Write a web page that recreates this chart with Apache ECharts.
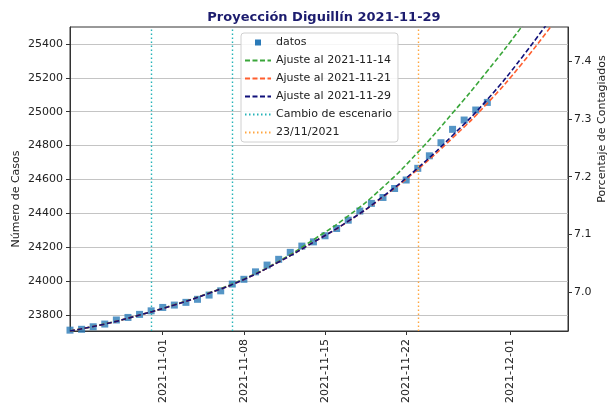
<!DOCTYPE html>
<html>
<head>
<meta charset="utf-8">
<script src="https://cdn.jsdelivr.net/npm/echarts@6/dist/echarts.min.js"></script>
<style>
html, body { margin: 0; padding: 0; background: #fff; }
#chart { width: 611px; height: 407px; }
</style>
</head>
<body>
<div id="chart"></div>
<script>
// datos diarios
var fechas = [
    "2021-10-24", "2021-10-25", "2021-10-26", "2021-10-27", "2021-10-28", "2021-10-29", "2021-10-30",
    "2021-10-31", "2021-11-01", "2021-11-02", "2021-11-03", "2021-11-04", "2021-11-05", "2021-11-06",
    "2021-11-07", "2021-11-08", "2021-11-09", "2021-11-10", "2021-11-11", "2021-11-12", "2021-11-13",
    "2021-11-14", "2021-11-15", "2021-11-16", "2021-11-17", "2021-11-18", "2021-11-19", "2021-11-20",
    "2021-11-21", "2021-11-22", "2021-11-23", "2021-11-24", "2021-11-25", "2021-11-26", "2021-11-27",
    "2021-11-28", "2021-11-29"
];
var casos = [
    23711, 23716, 23731, 23747, 23771, 23786, 23804,
    23825, 23845, 23859, 23875, 23893, 23918, 23943,
    23983, 24011, 24055, 24095, 24129, 24170, 24207,
    24232, 24268, 24311, 24360, 24414, 24459, 24494,
    24547, 24597, 24666, 24740, 24817, 24896, 24951,
    25010, 25055
];

// curvas de ajuste
var fechasAjuste = [
    "2021-10-24", "2021-10-27", "2021-10-30", "2021-11-02", "2021-11-05", "2021-11-08", "2021-11-11",
    "2021-11-14", "2021-11-17", "2021-11-20", "2021-11-23", "2021-11-26", "2021-11-29", "2021-12-02",
    "2021-12-05"
];
var ajuste1114 = [23706, 23748, 23800, 23861, 23931, 24013, 24117, 24245, 24385, 24555, 24760, 24992, 25240, 25505, 25790];
var ajuste1121 = [23706, 23747, 23800, 23860, 23929, 24010, 24113, 24230, 24353, 24497, 24660, 24845, 25050, 25285, 25550];
var ajuste1129 = [23706, 23747, 23800, 23860, 23929, 24010, 24113, 24230, 24354, 24500, 24668, 24860, 25072, 25322, 25600];

var cambioEscenario = ["2021-10-31", "2021-11-07"];
var fechaCorte = ["2021-11-23"];

var xTicks = ["2021-11-01", "2021-11-08", "2021-11-15", "2021-11-22", "2021-12-01"];
var yTicks = [23800, 24000, 24200, 24400, 24600, 24800, 25000, 25200, 25400];
var pctTicks = [7.0, 7.1, 7.2, 7.3, 7.4];

function dia(s) {
    var p = s.split("-");
    return new Date(+p[0], +p[1] - 1, +p[2]).getTime();
}
function pares(xs, ys) {
    return xs.map(function (x, i) { return [dia(x), ys[i]]; });
}
function pad(n) { return n < 10 ? "0" + n : "" + n; }

var chart = echarts.init(document.getElementById("chart"));
var font = "DejaVu Sans";
var dashed = [5, 2.5];
var dotted = [1.5, 2.5];

function ajuste(nombre, color, valores) {
    return {
        name: nombre,
        type: "line",
        smooth: true,
        symbol: "none",
        color: color,
        lineStyle: { color: color, width: 1.6, type: dashed },
        data: pares(fechasAjuste, valores),
        z: 3
    };
}
function vertical(nombre, color, fechasV) {
    return {
        name: nombre,
        type: "line",
        symbol: "none",
        color: color,
        lineStyle: { color: color, width: 1.4, type: dotted },
        data: [],
        markLine: {
            silent: true,
            symbol: ["none", "none"],
            label: { show: false },
            lineStyle: { color: color, width: 1.4, type: dotted },
            data: fechasV.map(function (f) { return { xAxis: dia(f) }; })
        },
        z: 4
    };
}

var option = {
    animation: false,
    backgroundColor: "#fff",
    textStyle: { fontFamily: font },
    title: {
        text: "Proyección Diguillín 2021-11-29",
        left: 319,
        top: 6,
        textAlign: "center",
        textStyle: { fontFamily: font, fontSize: 13, fontWeight: "bold", color: "#1c1c6e" }
    },
    grid: {
        left: 70, right: 43, top: 27, bottom: 76,
        outerBoundsMode: "none",
        containLabel: false,
        show: true, borderColor: "#333", borderWidth: 1
    },
    legend: {
        orient: "vertical",
        left: 241,
        top: 33,
        padding: [4, 6, 4, 3],
        itemWidth: 26,
        itemHeight: 10,
        itemGap: 7,
        backgroundColor: "rgba(255,255,255,0.85)",
        borderColor: "#d0d0d0",
        borderWidth: 1,
        borderRadius: 3,
        itemStyle: { opacity: 0 },
        textStyle: { fontFamily: font, fontSize: 11, color: "#222" },
        data: [
            { name: "datos", icon: "path://M0,0M26,10M10,2h6v6h-6z", itemStyle: { opacity: 1 } },
            "Ajuste al 2021-11-14",
            "Ajuste al 2021-11-21",
            "Ajuste al 2021-11-29",
            "Cambio de escenario",
            "23/11/2021"
        ]
    },
    xAxis: {
        type: "value",
        min: dia("2021-10-24"),
        max: dia("2021-12-05") + 23 * 3600 * 1000,
        axisLine: { lineStyle: { color: "#333" } },
        axisTick: { show: true, length: 4, lineStyle: { color: "#333" }, customValues: xTicks.map(dia) },
        axisLabel: {
            rotate: 90,
            margin: 8,
            fontSize: 11,
            color: "#222",
            customValues: xTicks.map(dia),
            formatter: function (v) {
                var d = new Date(v);
                return d.getFullYear() + "-" + pad(d.getMonth() + 1) + "-" + pad(d.getDate());
            }
        },
        splitLine: { show: false }
    },
    yAxis: [
        {
            type: "value",
            min: 23706,
            max: 25500,
            name: "Número de Casos",
            nameLocation: "middle",
            nameMoveOverlap: false,
            nameGap: 48,
            nameTextStyle: { fontFamily: font, fontSize: 11, color: "#222", padding: [0, 40, 0, 0] },
            axisLine: { show: true, lineStyle: { color: "#333" } },
            axisTick: { show: true, length: 4, lineStyle: { color: "#333" }, customValues: yTicks },
            axisLabel: {
                fontSize: 11, color: "#222", margin: 7, customValues: yTicks,
                formatter: function (v) { return String(v); }
            },
            splitLine: { show: true, lineStyle: { color: "#c4c4c4", width: 1 } }
        },
        {
            type: "value",
            min: 6.932,
            max: 7.46,
            position: "right",
            name: "Porcentaje de Contagiados",
            nameLocation: "middle",
            nameMoveOverlap: false,
            nameGap: 29,
            nameTextStyle: { fontFamily: font, fontSize: 11, color: "#222", padding: [0, 0, 0, 100] },
            axisLine: { show: true, lineStyle: { color: "#333" } },
            axisTick: { show: true, length: 4, lineStyle: { color: "#333" }, customValues: pctTicks },
            axisLabel: {
                fontSize: 11, color: "#222", margin: 6, customValues: pctTicks,
                formatter: function (v) { return v.toFixed(1); }
            },
            splitLine: { show: false }
        }
    ],
    series: [
        {
            name: "datos",
            type: "scatter",
            symbol: "rect",
            symbolSize: 7,
            color: "#2a7ab8",
            data: pares(fechas, casos),
            z: 2
        },
        ajuste("Ajuste al 2021-11-14", "#3aa63a", ajuste1114),
        ajuste("Ajuste al 2021-11-21", "#ff5e2e", ajuste1121),
        ajuste("Ajuste al 2021-11-29", "#10107a", ajuste1129),
        vertical("Cambio de escenario", "#26b3b8", cambioEscenario),
        vertical("23/11/2021", "#ffa640", fechaCorte)
    ]
};
chart.setOption(option);
</script>
</body>
</html>
